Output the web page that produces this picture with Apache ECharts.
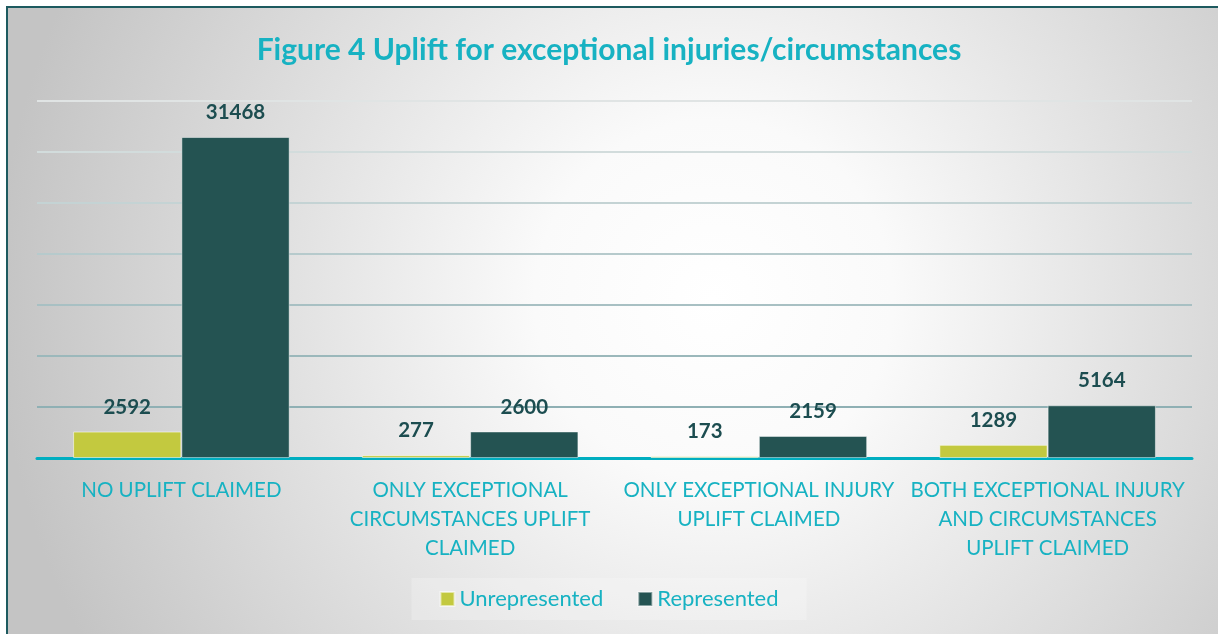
<!DOCTYPE html>
<html>
<head>
<meta charset="utf-8">
<title>Figure 4 Uplift for exceptional injuries/circumstances</title>
<script src="https://cdn.jsdelivr.net/npm/echarts@6/dist/echarts.min.js"></script>
<style>
  html, body { margin: 0; padding: 0; background: #fff; }
  #main { width: 1218px; height: 634px; }
</style>
</head>
<body>
<div id="main"></div>
<script>
// data
var categories = [
  'NO UPLIFT CLAIMED',
  'ONLY EXCEPTIONAL\nCIRCUMSTANCES UPLIFT\nCLAIMED',
  'ONLY EXCEPTIONAL INJURY\nUPLIFT CLAIMED',
  'BOTH EXCEPTIONAL INJURY\nAND CIRCUMSTANCES\nUPLIFT CLAIMED'
];
var unrepresented = [2592, 277, 173, 1289];
var represented = [31468, 2600, 2159, 5164];

var font = 'Lato, "Open Sans", sans-serif';
var teal = '#17B2C2';
var labelDark = '#1C4D50';

var chart = echarts.init(document.getElementById('main'));

var barLabel = {
  show: true,
  position: 'top',
  distance: 14,
  color: labelDark,
  fontSize: 20.5,
  fontWeight: 'bold',
  fontFamily: font
};

chart.setOption({
  animation: false,
  textStyle: { fontFamily: font },
  graphic: [{
    type: 'rect',
    z: -10,
    silent: true,
    shape: { x: 7, y: 7, width: 1240, height: 650 },
    style: {
      fill: new echarts.graphic.RadialGradient(0.57, 0.45, 1.1, [
        { offset: 0, color: '#ffffff' },
        { offset: 0.25, color: '#fafafa' },
        { offset: 1, color: '#c4c4c4' }
      ]),
      stroke: '#1D5A5F',
      lineWidth: 2
    }
  }],
  title: {
    text: 'Figure 4 Uplift for exceptional injuries/circumstances',
    left: 'center',
    top: 30,
    textStyle: {
      color: teal,
      fontSize: 30,
      fontWeight: 'bold',
      fontFamily: font
    }
  },
  legend: {
    data: ['Unrepresented', 'Represented'],
    left: 'center',
    top: 578,
    padding: [10, 28],
    backgroundColor: 'rgba(255,255,255,0.22)',
    itemGap: 34,
    itemWidth: 14,
    itemHeight: 14,
    icon: 'rect',
    textStyle: { color: teal, fontSize: 22, fontFamily: font }
  },
  grid: {
    left: 37,
    right: 26,
    top: 101,
    bottom: 176,
    containLabel: false
  },
  xAxis: {
    type: 'category',
    data: categories,
    axisLine: { lineStyle: { color: '#00AEC0', width: 3 } },
    axisTick: { show: false },
    axisLabel: {
      color: teal,
      fontSize: 20.5,
      lineHeight: 29,
      margin: 18,
      interval: 0,
      fontFamily: font
    }
  },
  yAxis: {
    type: 'value',
    min: 0,
    max: 35000,
    interval: 5000,
    axisLabel: { show: false },
    axisLine: { show: false },
    axisTick: { show: false },
    splitLine: {
      lineStyle: {
        width: 2,
        color: ['#8FB0B4', '#8FB0B4', '#9BB8BB', '#A8C0C3', '#B6CACC', '#C4D3D4', '#D2DCDC', '#E0E4E4']
      }
    }
  },
  series: [
    {
      name: 'Unrepresented',
      type: 'bar',
      data: unrepresented,
      barGap: '0%',
      barCategoryGap: '25%',
      itemStyle: {
        color: '#C3C93F',
        borderColor: 'rgba(255,255,255,0.55)',
        borderWidth: 1
      },
      label: barLabel
    },
    {
      name: 'Represented',
      type: 'bar',
      data: represented,
      itemStyle: {
        color: '#245352',
        borderColor: 'rgba(255,255,255,0.45)',
        borderWidth: 1
      },
      label: barLabel
    }
  ]
});
</script>
</body>
</html>
